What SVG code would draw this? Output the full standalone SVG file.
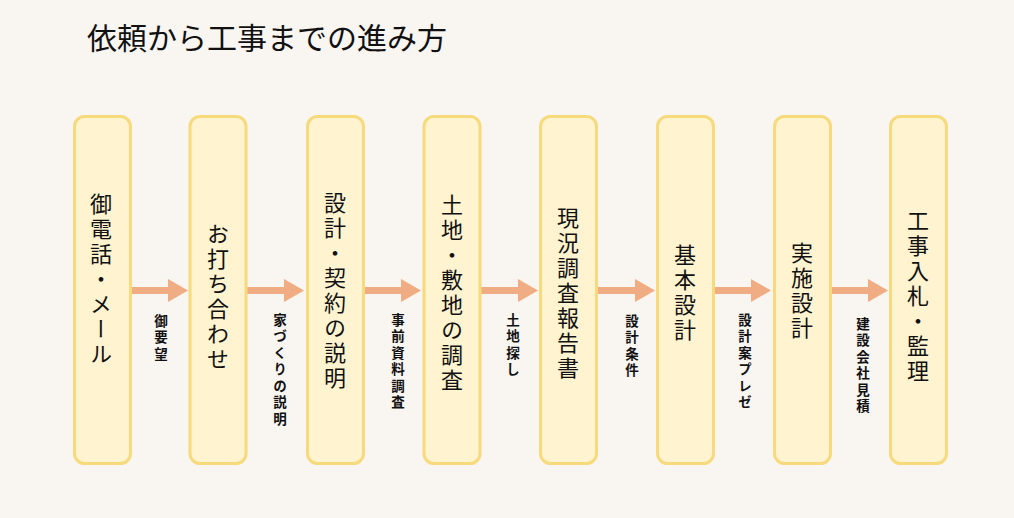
<svg xmlns="http://www.w3.org/2000/svg" width="1014" height="518" viewBox="0 0 1014 518">
<style>
.bg{fill:#F9F5F1}
.box{fill:#FFF3D0;stroke:#F6DA7C;stroke-width:3}
.arr{fill:#F0AC82}
.t{font-family:"Noto Sans CJK JP","Noto Sans CJK SC",sans-serif;fill:#111}
.main{font-size:22px;writing-mode:vertical-rl;text-anchor:middle;letter-spacing:3px}
.lbl{font-size:13.5px;font-weight:bold;writing-mode:vertical-rl;text-anchor:start;letter-spacing:3px}
.title{font-size:30px}
</style>
<defs>
<polygon id="arrow" points="0,-3.5 37,-3.5 37,-11.5 57,0 37,11.5 37,3.5 0,3.5"/>
</defs>
<rect class="bg" x="0" y="0" width="1014" height="518"/>
<text class="t title" x="87" y="49">依頼から工事までの進み方</text>
<g id="connectors">
<use href="#arrow" class="arr" x="131" y="290.5"/>
<use href="#arrow" class="arr" x="247" y="290.5"/>
<use href="#arrow" class="arr" x="364" y="290.5"/>
<use href="#arrow" class="arr" x="481" y="290.5"/>
<use href="#arrow" class="arr" x="598" y="290.5"/>
<use href="#arrow" class="arr" x="714" y="290.5"/>
<use href="#arrow" class="arr" x="831" y="290.5"/>
<text class="t lbl" x="161" y="314">御要望</text>
<text class="t lbl" x="280" y="313">家づくりの説明</text>
<text class="t lbl" x="398" y="313">事前資料調査</text>
<text class="t lbl" x="513" y="313">土地探し</text>
<text class="t lbl" x="632" y="314">設計条件</text>
<text class="t lbl" x="745" y="313">設計案プレゼ</text>
<text class="t lbl" x="863" y="317">建設会社見積</text>
</g>
<g id="n1"><rect class="box" x="74.5" y="116.5" width="56" height="347" rx="10"/><text class="t main" x="101" y="280">御電話・メール</text></g>
<g id="n2"><rect class="box" x="190" y="116.5" width="56" height="347" rx="10"/><text class="t main" x="218" y="298">お打ち合わせ</text></g>
<g id="n3"><rect class="box" x="307.5" y="116.5" width="56" height="347" rx="10"/><text class="t main" x="335" y="292">設計・契約の説明</text></g>
<g id="n4"><rect class="box" x="424" y="116.5" width="56" height="347" rx="10"/><text class="t main" x="452" y="294">土地・敷地の調査</text></g>
<g id="n5"><rect class="box" x="540.5" y="116.5" width="56" height="347" rx="10"/><text class="t main" x="568" y="294">現況調査報告書</text></g>
<g id="n6"><rect class="box" x="657.5" y="116.5" width="56" height="347" rx="10"/><text class="t main" x="685" y="294">基本設計</text></g>
<g id="n7"><rect class="box" x="774.5" y="116.5" width="56" height="347" rx="10"/><text class="t main" x="802" y="292">実施設計</text></g>
<g id="n8"><rect class="box" x="890.5" y="116.5" width="56" height="347" rx="10"/><text class="t main" x="918" y="297">工事入札・監理</text></g>
</svg>
